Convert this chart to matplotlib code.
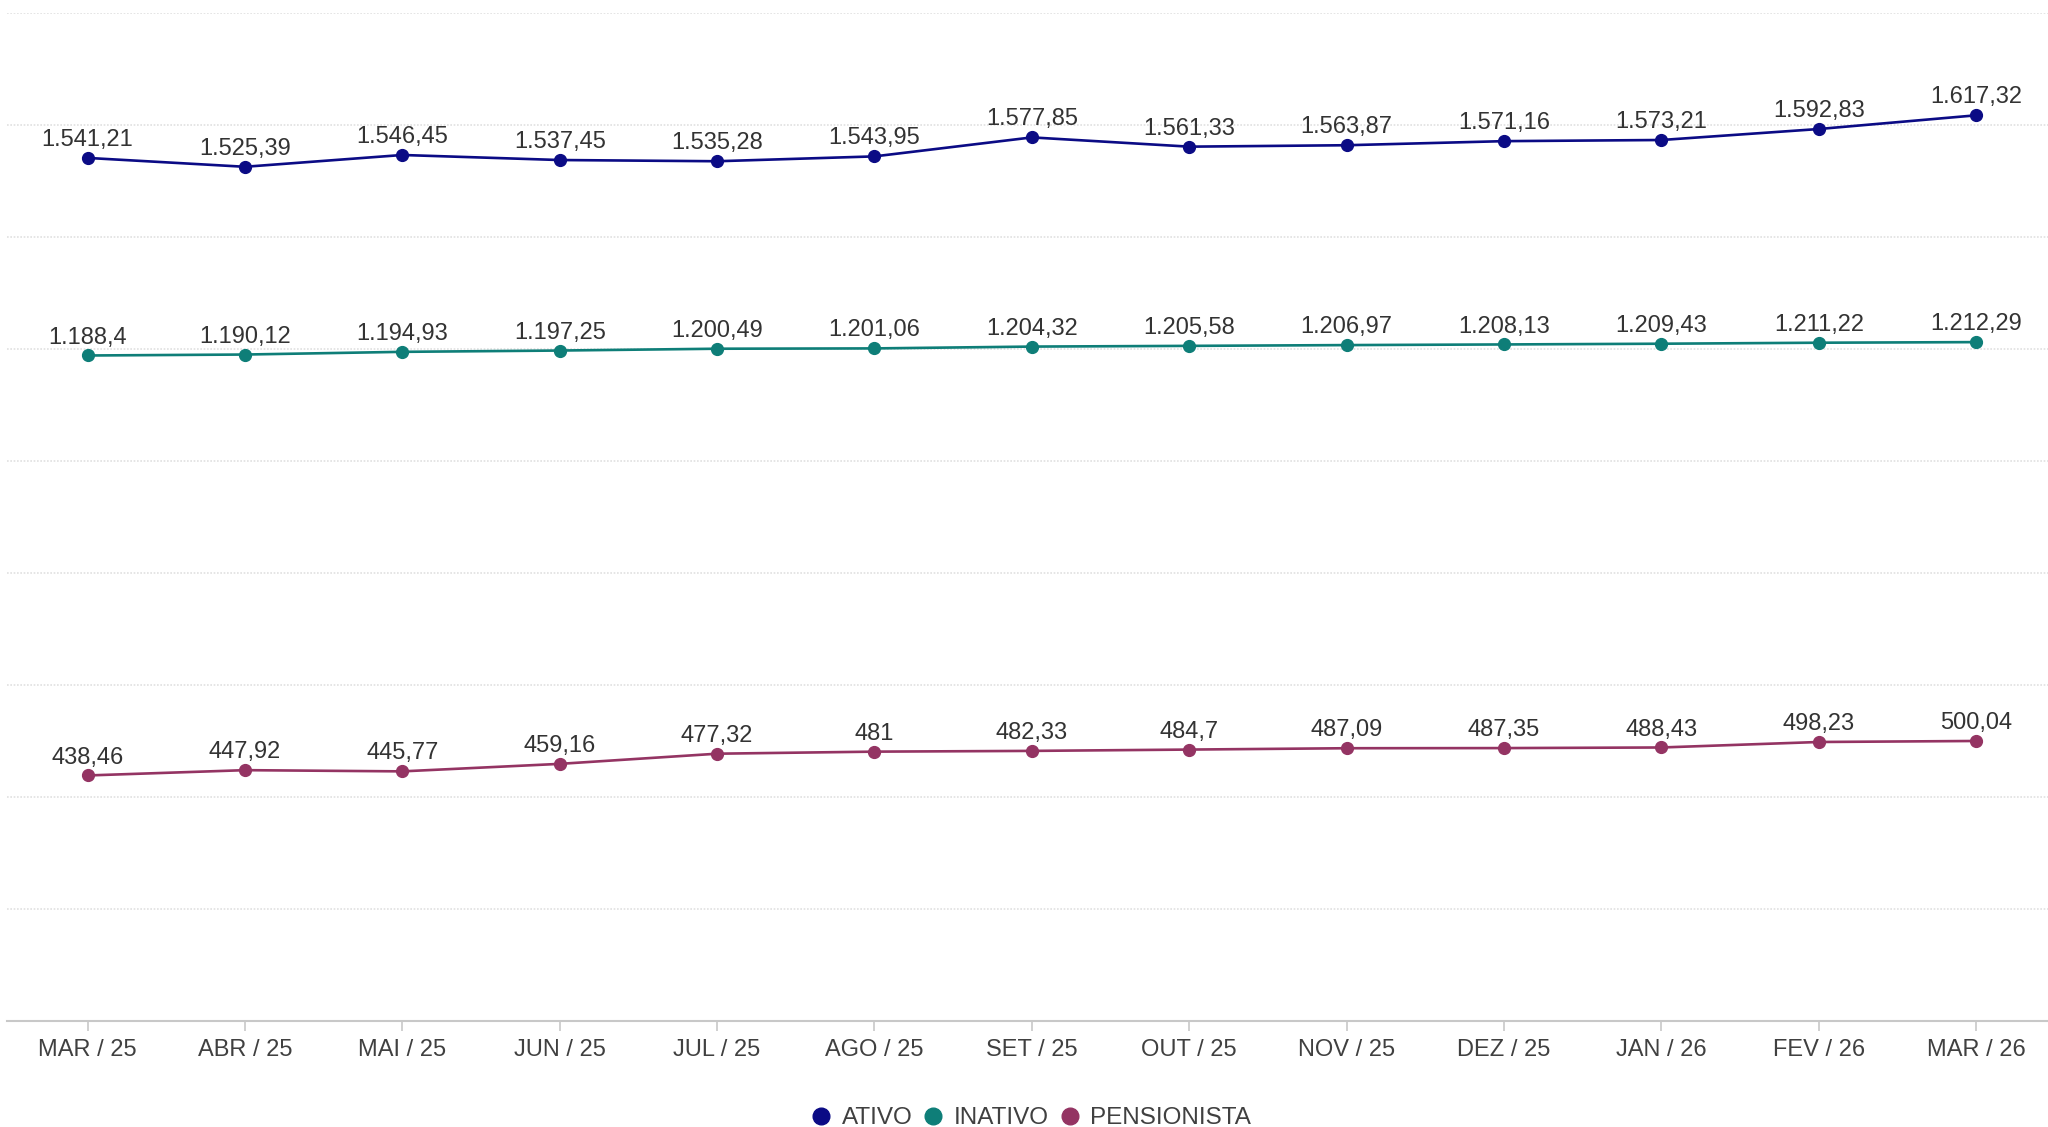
import matplotlib
matplotlib.use("Agg")
import matplotlib.pyplot as plt
from matplotlib.lines import Line2D

months = ["MAR / 25", "ABR / 25", "MAI / 25", "JUN / 25", "JUL / 25", "AGO / 25", "SET / 25",
          "OUT / 25", "NOV / 25", "DEZ / 25", "JAN / 26", "FEV / 26", "MAR / 26"]
ativo = [1541.21, 1525.39, 1546.45, 1537.45, 1535.28, 1543.95, 1577.85,
         1561.33, 1563.87, 1571.16, 1573.21, 1592.83, 1617.32]
inativo = [1188.4, 1190.12, 1194.93, 1197.25, 1200.49, 1201.06, 1204.32,
           1205.58, 1206.97, 1208.13, 1209.43, 1211.22, 1212.29]
pensionista = [438.46, 447.92, 445.77, 459.16, 477.32, 481, 482.33,
               484.7, 487.09, 487.35, 488.43, 498.23, 500.04]
series_names = ["ATIVO", "INATIVO", "PENSIONISTA"]
colors = ["#0B0B85", "#0E7E78", "#943463"]

plt.rcParams['font.family'] = ['Liberation Sans', 'DejaVu Sans']

def fmt(v):
    s = f"{v:,.2f}"
    ip, dp = s.split(".")
    ip = ip.replace(",", ".")
    dp = dp.rstrip("0")
    return ip + ("," + dp if dp else "")

fig = plt.figure(figsize=(20.48, 11.27), dpi=100)
ax = fig.add_axes([0.0032, 1 - 1021 / 1127, 1.0 - 0.0032, (1021 - 13) / 1127])

x = list(range(len(months)))
for vals, name, c in zip([ativo, inativo, pensionista], series_names, colors):
    ax.plot(x, vals, color=c, lw=1.9, marker='o', markersize=8.5, zorder=3)
    for xi, v in zip(x, vals):
        ax.annotate(fmt(v), (xi, v), xytext=(0, 5), textcoords='offset points',
                    ha='center', va='bottom', fontsize=17, color='#333333', zorder=4)

ax.set_xlim(-0.5145, 12.456)
ax.set_ylim(0, 1800)
ax.set_yticks(range(0, 1801, 200))
ax.yaxis.grid(True, color='#E0E0E0', linestyle=(0, (1, 1)), lw=1.2)
ax.set_axisbelow(True)
ax.tick_params(axis='y', left=False, labelleft=False)
ax.set_xticks(x)
ax.set_xticklabels(months, fontsize=17, color='#404040')
ax.tick_params(axis='x', length=7, width=1.2, color='#C8C8C8', pad=6)
for s in ['top', 'right', 'left']:
    ax.spines[s].set_visible(False)
ax.spines['bottom'].set_color('#C8C8C8')
ax.spines['bottom'].set_linewidth(1.5)

handles = [Line2D([], [], linestyle='none', marker='o', markersize=12, color=c) for c in colors]
fig.legend(handles, series_names, loc='center', bbox_to_anchor=(0.503, 9 / 1127), ncol=3,
           frameon=False, fontsize=17.5, handletextpad=0.35, columnspacing=0.35,
           handlelength=1.0, labelcolor='#404040')

fig.savefig("out.png", dpi=100, facecolor='white')
